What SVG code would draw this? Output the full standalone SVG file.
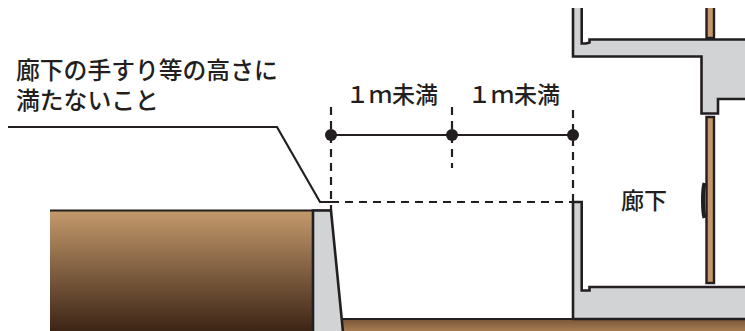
<svg xmlns="http://www.w3.org/2000/svg" width="745" height="331" viewBox="0 0 745 331">
<style>
.t{font-family:"Noto Sans CJK JP","Noto Sans",sans-serif;fill:#231f20;font-size:23.800px;font-weight:500}
.n{font-size:23px}
.c{fill:#d1d3d4;stroke:#231f20;stroke-width:2.600;stroke-linejoin:miter}
.f{fill:#d1d3d4}
.s{fill:none;stroke:#231f20;stroke-width:2.600}
.b{fill:#c4986a}
.w{fill:none;stroke:#231f20;stroke-width:2.400}
.d{fill:none;stroke:#231f20;stroke-width:2.200;stroke-dasharray:8 6}
.l{fill:none;stroke:#231f20;stroke-width:2.200}
.o{fill:#231f20}
</style>
<defs>
<linearGradient id="e" x1="0" y1="0" x2="0" y2="1"><stop offset="0" stop-color="#c49a6c"/><stop offset="1" stop-color="#3c2415"/></linearGradient>
<linearGradient id="g" x1="0" y1="0" x2="0" y2="1"><stop offset="0" stop-color="#7a5638"/><stop offset="1" stop-color="#a67c52"/></linearGradient>
</defs>
<g id="ground">
<rect x="50" y="210.500" width="263" height="121" fill="url(#e)"/>
<path d="M50 210.500H331" class="l"/>
<rect x="342" y="319" width="403" height="12" fill="url(#g)"/>
<path d="M342 319H745" class="l"/>
</g>
<g id="retaining-wall"><path class="c" d="M313 332V210.500H331L343 332"/></g>
<g id="upper-floor">
<path class="f" d="M746 39.500H589.500V42.500L586 43.500H581.700V8H573V56.500H701.500V113.500H718V99H746Z"/>
<path class="s" d="M746 39.500H589.500V42.500L586 43.500H581.700V8M573 8V56.500H701.500V113.500H718V99H746"/>
<rect class="b" x="706.500" y="8" width="7.500" height="30"/>
<path class="w" d="M706.500 8V38H714V8"/>
<rect class="b" x="706.500" y="117" width="7.500" height="166"/>
<path class="w" d="M706.500 283V117H714V283Z"/>
</g>
<g id="lower-floor">
<path class="c" d="M746 287H589.500V290.500H581.700V202H573V319H746"/>
</g>
<g id="handrail"><path d="M704.500 183C702.500 190 702.500 211 704.500 218" fill="none" stroke="#231f20" stroke-width="4"/></g>
<g id="connectors">
<path class="l" d="M8 127H277L320 202H331"/>
<path class="d" d="M331 202H573"/>
<path class="d" d="M331 107V210"/>
<path class="d" d="M452 107V168"/>
<path class="d" d="M573 110V202"/>
<path class="l" d="M331 135H573"/>
<circle class="o" cx="331" cy="135" r="6"/>
<circle class="o" cx="452" cy="135" r="6"/>
<circle class="o" cx="573" cy="135" r="6"/>
</g>
<g id="labels">
<text class="t" x="16" y="79">廊下の手すり等の高さに</text>
<text class="t" x="16" y="109">満たないこと</text>
<text class="t n" x="346" y="103">１ｍ未満</text>
<text class="t n" x="468" y="103">１ｍ未満</text>
<text class="t n" x="621" y="209">廊下</text>
</g>
</svg>
